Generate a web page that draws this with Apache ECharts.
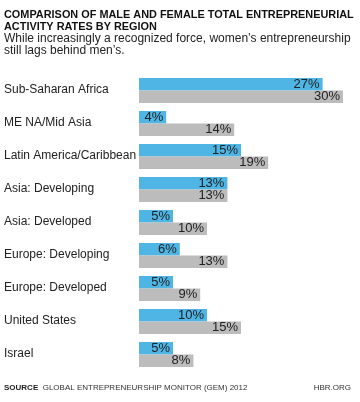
<!DOCTYPE html>
<html><head><meta charset="utf-8">
<script src="https://cdn.jsdelivr.net/npm/echarts@6/dist/echarts.min.js"></script>
<style>html,body{margin:0;padding:0;background:#fff}#c{width:360px;height:402px}</style>
</head><body><div id="c"></div>
<script>
const categories = ['Sub-Saharan Africa','ME NA/Mid Asia','Latin America/Caribbean','Asia: Developing','Asia: Developed','Europe: Developing','Europe: Developed','United States','Israel'];
const female = [27,4,15,13,5,6,5,10,5];
const male = [30,14,19,13,10,13,9,15,8];
const seriesNames = ['FEMALE','MALE'];

const chart = echarts.init(document.getElementById('c'), null, {renderer:'canvas'});
const FONT = '"Liberation Sans", Arial, sans-serif';
const valueLabel = {show:true, position:'insideRight', distance:3, color:'#222', fontSize:13, fontFamily:FONT, formatter: p => p.value + '%'};
chart.setOption({
  animation:false,
  grid:{left:139, right:17, top:74, bottom:31, containLabel:false},
  xAxis:{type:'value', min:0, max:30, show:false},
  yAxis:{type:'category', data:categories, inverse:true,
    axisLine:{show:false}, axisTick:{show:false}, splitLine:{show:false},
    axisLabel:{show:false}},
  series:[
    {name:seriesNames[0], type:'bar', data:female, barWidth:12.5, barGap:'0%', barCategoryGap:'24%',
      itemStyle:{color:'#4fb5e5'}, label:valueLabel},
    {name:seriesNames[1], type:'bar', data:male, barWidth:12.5,
      itemStyle:{color:'#bcbcbc'}, label:valueLabel}
  ]
});

const x0 = chart.convertToPixel({gridIndex:0},[0,0])[0];
const g = [
  {type:'text', left:4, top:9, style:{text:'COMPARISON OF MALE AND FEMALE TOTAL ENTREPRENEURIAL\nACTIVITY RATES BY REGION', fill:'#111', font:'bold 10.9px '+FONT, lineHeight:12}},
  {type:'text', left:4, top:32, style:{text:'While increasingly a recognized force, women\u2019s entrepreneurship\nstill lags behind men\u2019s.', fill:'#222', font:'12px '+FONT, lineHeight:12.5}},
  {type:'text', left:4, top:384, style:{text:'{b|SOURCE}  GLOBAL ENTREPRENEURSHIP MONITOR (GEM) 2012', fill:'#333', font:'8px '+FONT, rich:{b:{fontWeight:'bold', fontSize:8, fontFamily:FONT, fill:'#222'}}}},
  {type:'text', right:9, top:384, style:{text:'HBR.ORG', fill:'#333', font:'8px '+FONT}}
];
categories.forEach((c,i)=>{
  const y = chart.convertToPixel({gridIndex:0},[0,c])[1];
  g.push({type:'text', left:4, top:y-7, style:{text:c, fill:'#222', font:'12px '+FONT}});
});
const y0 = chart.convertToPixel({gridIndex:0},[0,categories[0]])[1];
g.push({type:'text', left:x0+9, top:y0-10, style:{text:seriesNames[0], fill:'#333', font:'8px '+FONT}});
g.push({type:'text', left:x0+9, top:y0+3, style:{text:seriesNames[1], fill:'#333', font:'8px '+FONT}});
chart.setOption({graphic:g});
</script></body></html>
